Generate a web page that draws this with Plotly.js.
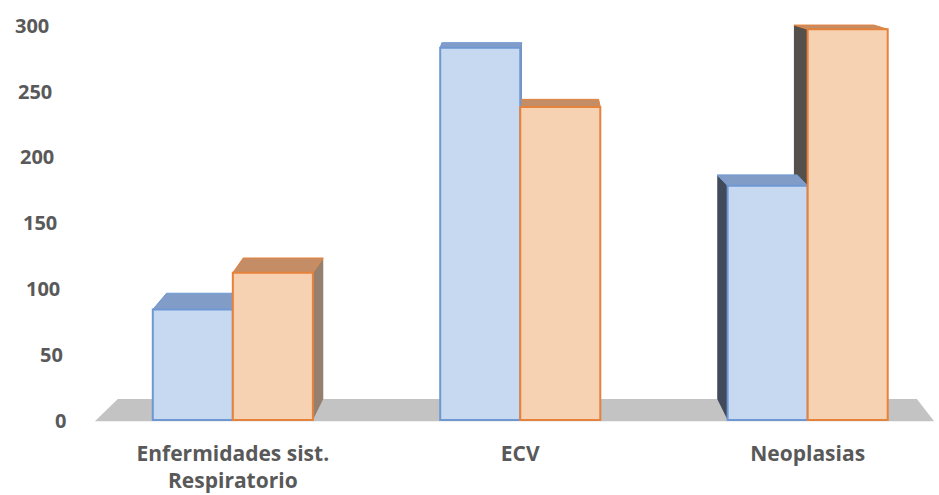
<!DOCTYPE html>
<html>
<head>
<meta charset="utf-8">
<script src="https://cdn.plot.ly/plotly-3.0.1.min.js"></script>
<style>
  html, body { margin: 0; padding: 0; background: #ffffff; }
  #chart { width: 939px; height: 495px; }
</style>
</head>
<body>
<div id="chart"></div>
<script>
// Causes of death by group, two series per category
const categories = ['Enfermidades sist.<br>Respiratorio', 'ECV', 'Neoplasias'];
const serieA = [84, 283, 178];
const serieB = [112, 238, 297];
const yTicks = [0, 50, 100, 150, 200, 250, 300];

// Styling
const textGrey = '#595959';
const blueFill = '#c6d9f1', blueLine = '#6f98d3', blueTop = '#829cc8';
const orangeFill = '#f6d1b2', orangeLine = '#e5823b', orangeTop = '#c48d66';
// side faces: the ones turned left sit in shadow, the ones turned right catch some light
const blueSideL = '#404a5a', blueSideR = '#7688a6';
const orangeSideL = '#56504c', orangeSideR = '#958070';
const floorGrey = '#c3c3c3';

const margin = {l: 92, r: 2, t: 3, b: 71};
const xRange = [-0.49, 2.45];
const yRange = [-3, 317];
const bargap = 0.443;
const barW = (1 - bargap) / 2;

// pseudo 3-D extrusion: the top face looks thinner the higher it sits,
// horizontal skew grows with distance from the centre of the view
const depthAt = h => 16 - 0.043 * h;
const vanishX = 1.0;
const skewK = -0.042;

const xs = categories.map((_, i) => i);
const shapes = [];

// floor slab
shapes.push({
  type: 'path', xref: 'x', yref: 'y', layer: 'below',
  path: `M ${-0.48},-1 L 2.44,-1 L 2.38,${depthAt(0)} L -0.40,${depthAt(0)} Z`,
  fillcolor: floorGrey, line: {width: 0}
});

function barGeom(xc, v, isLeft) {
  const x0 = isLeft ? xc - barW : xc;
  const x1 = isLeft ? xc : xc + barW;
  const s = skewK * ((x0 + x1) / 2 - vanishX);
  return {x0, x1, v, s};
}

const bars = [];
xs.forEach((xc, i) => {
  bars.push(Object.assign(barGeom(xc, serieA[i], true),
    {top: blueTop, sideL: blueSideL, sideR: blueSideR, edge: blueLine}));
  bars.push(Object.assign(barGeom(xc, serieB[i], false),
    {top: orangeTop, sideL: orangeSideL, sideR: orangeSideR, edge: orangeLine}));
});

// side faces first, then top faces
bars.forEach(b => {
  const right = b.s >= 0;
  const xe = right ? b.x1 : b.x0;
  shapes.push({
    type: 'path', xref: 'x', yref: 'y', layer: 'below',
    path: `M ${xe},0 L ${xe},${b.v} L ${xe + b.s},${b.v + depthAt(b.v)} L ${xe + b.s},${depthAt(0)} Z`,
    fillcolor: right ? b.sideR : b.sideL, line: {width: 0}
  });
});
bars.forEach(b => {
  const d = depthAt(b.v);
  shapes.push({
    type: 'path', xref: 'x', yref: 'y', layer: 'below',
    path: `M ${b.x0},${b.v} L ${b.x1},${b.v} L ${b.x1 + b.s},${b.v + d} L ${b.x0 + b.s},${b.v + d} Z`,
    fillcolor: b.top, line: {color: b.edge, width: 1}
  });
});

// value labels along the slanted back axis
const plotW = 939 - margin.l - margin.r;
const annotations = yTicks.map(v => ({
  xref: 'paper', yref: 'y',
  x: (68 - v * 0.058 - margin.l) / plotW, y: v,
  xanchor: 'right', yanchor: 'middle',
  text: String(v), showarrow: false,
  font: {family: 'Open Sans, sans-serif', size: 20, color: textGrey, weight: 700}
}));

const traces = [
  {
    type: 'bar', x: xs, y: serieA, name: 'Serie 1',
    marker: {color: blueFill, line: {color: blueLine, width: 2}},
    hoverinfo: 'skip'
  },
  {
    type: 'bar', x: xs, y: serieB, name: 'Serie 2',
    marker: {color: orangeFill, line: {color: orangeLine, width: 2}},
    hoverinfo: 'skip'
  }
];

const layout = {
  width: 939, height: 495,
  margin: margin,
  paper_bgcolor: '#ffffff', plot_bgcolor: '#ffffff',
  showlegend: false,
  barmode: 'group', bargap: bargap, bargroupgap: 0,
  xaxis: {
    type: 'linear', range: xRange,
    tickvals: xs, ticktext: categories,
    showgrid: false, zeroline: false, showline: false, ticks: '',
    ticklabelstandoff: 15,
    tickfont: {family: 'Open Sans, sans-serif', size: 21, color: textGrey, weight: 700}
  },
  yaxis: {
    range: yRange, showgrid: false, zeroline: false, showline: false,
    showticklabels: false, ticks: ''
  },
  shapes: shapes,
  annotations: annotations
};

Plotly.newPlot('chart', traces, layout, {displayModeBar: false, staticPlot: true});
</script>
</body>
</html>
